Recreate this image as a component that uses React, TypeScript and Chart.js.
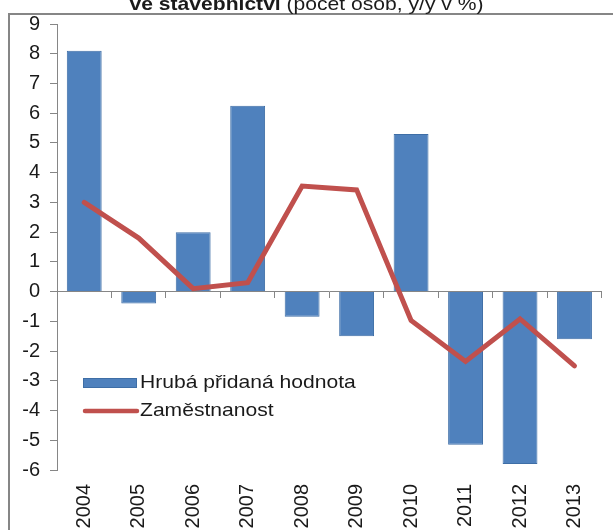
import React, { useEffect, useRef } from "react";
import { Chart, registerables } from "chart.js";

Chart.register(...registerables);

const categories = ["2004", "2005", "2006", "2007", "2008", "2009", "2010", "2011", "2012", "2013"];
const grossValueAdded = [8.1, -0.4, 2.0, 6.25, -0.85, -1.5, 5.3, -5.15, -5.8, -1.6];
const employment = [3.0, 1.8, 0.1, 0.3, 3.55, 3.42, -0.97, -2.35, -0.92, -2.5];
const seriesNames = ["Hrubá přidaná hodnota", "Zaměstnanost"];
const titleBold = "ve stavebnictví";
const titleRest = " (počet osob, y/y v %)";
const yMin = -6;
const yMax = 9;
const yStep = 1;

const FONT = '"Liberation Sans", Arial, sans-serif';
const TEXT = "#1a1a1a";
const AXIS = "#868686";
const BLUE = "#4F81BD";
const BLUE_EDGE = "#3E6EA6";
const RED = "#C0504D";

const insideLegend = {
  id: "insideLegend",
  afterDatasetsDraw(chart: any) {
    const { ctx, chartArea } = chart;
    const x0 = chartArea.left + 26;
    const keyW = 54;
    const rows = [chartArea.top + 359, chartArea.top + 387];
    ctx.save();
    ctx.font = `18.5px ${FONT}`;
    ctx.textBaseline = "middle";
    ctx.textAlign = "left";
    chart.data.datasets.forEach((ds: any, i: number) => {
      const y = rows[i];
      if (ds.type === "bar") {
        ctx.fillStyle = ds.backgroundColor;
        ctx.fillRect(x0, y - 5, keyW, 10);
        ctx.strokeStyle = ds.borderColor;
        ctx.lineWidth = 1;
        ctx.strokeRect(x0 + 0.5, y - 4.5, keyW - 1, 9);
      } else {
        ctx.strokeStyle = ds.borderColor;
        ctx.lineWidth = 4.5;
        ctx.lineCap = "round";
        ctx.beginPath();
        ctx.moveTo(x0 + 2, y);
        ctx.lineTo(x0 + keyW, y);
        ctx.stroke();
      }
      ctx.fillStyle = TEXT;
      ctx.save();
      ctx.translate(x0 + keyW + 3, y);
      ctx.scale(1.14, 1);
      ctx.fillText(ds.label, 0, 0);
      ctx.restore();
    });
    ctx.restore();
  },
};

export default function App() {
  const ref = useRef<HTMLCanvasElement | null>(null);

  useEffect(() => {
    if (!ref.current) return;
    const chart = new Chart(ref.current, {
      type: "bar",
      data: {
        labels: categories,
        datasets: [
          {
            type: "bar",
            label: seriesNames[0],
            data: grossValueAdded,
            backgroundColor: BLUE,
            borderColor: BLUE_EDGE,
            borderWidth: 1,
            categoryPercentage: 1,
            barPercentage: 0.64,
            order: 1,
          } as any,
          {
            type: "line",
            label: seriesNames[1],
            data: employment,
            borderColor: RED,
            backgroundColor: RED,
            borderWidth: 5,
            pointRadius: 0,
            tension: 0,
            borderCapStyle: "round",
            order: 0,
          } as any,
        ],
      },
      options: {
        responsive: false,
        animation: false,
        devicePixelRatio: 1,
        layout: { padding: { left: 0, right: 10, top: 24, bottom: 0 } },
        plugins: {
          legend: { display: false },
          tooltip: { enabled: false },
          title: { display: false },
        },
        scales: {
          x: {
            grid: { display: false, drawTicks: false },
            border: { display: false },
            ticks: {
              autoSkip: false,
              maxRotation: 90,
              minRotation: 90,
              padding: 14,
              color: TEXT,
              font: { family: FONT, size: 20 },
            },
            afterFit: (s: any) => {
              s.height = 60;
            },
          },
          x2: {
            type: "category",
            position: { y: 0 },
            offset: true,
            grid: { offset: true, drawOnChartArea: false, tickLength: 6, color: AXIS },
            border: { color: AXIS },
            ticks: { display: false },
          } as any,
          y: {
            min: yMin,
            max: yMax,
            ticks: {
              stepSize: yStep,
              padding: 10,
              color: TEXT,
              font: { family: FONT, size: 20 },
            },
            grid: { drawOnChartArea: false, tickLength: 7, color: AXIS },
            border: { color: AXIS },
            afterFit: (s: any) => {
              s.width = 57;
            },
          },
        },
      } as any,
      plugins: [insideLegend],
    });
    return () => chart.destroy();
  }, []);

  return (
    <div
      style={{
        position: "fixed",
        left: 0,
        top: 0,
        width: 613,
        height: 530,
        overflow: "hidden",
        background: "#fff",
      }}
    >
      <canvas ref={ref} width={613} height={530} style={{ position: "absolute", left: 0, top: 0 }} />
      <div
        style={{
          position: "absolute",
          left: 8,
          top: 13,
          width: 700,
          height: 700,
          border: `2px solid ${AXIS}`,
          boxSizing: "border-box",
          pointerEvents: "none",
        }}
      />
      <div
        style={{
          position: "absolute",
          left: 0,
          top: -5,
          width: 613,
          textAlign: "center",
          fontFamily: FONT,
          fontSize: 18.5,
          lineHeight: "18px",
          color: TEXT,
          whiteSpace: "pre",
          transform: "scaleX(1.14)",
          transformOrigin: "306.5px 0",
        }}
      >
        <b>{titleBold}</b>
        {titleRest}
      </div>
    </div>
  );
}
